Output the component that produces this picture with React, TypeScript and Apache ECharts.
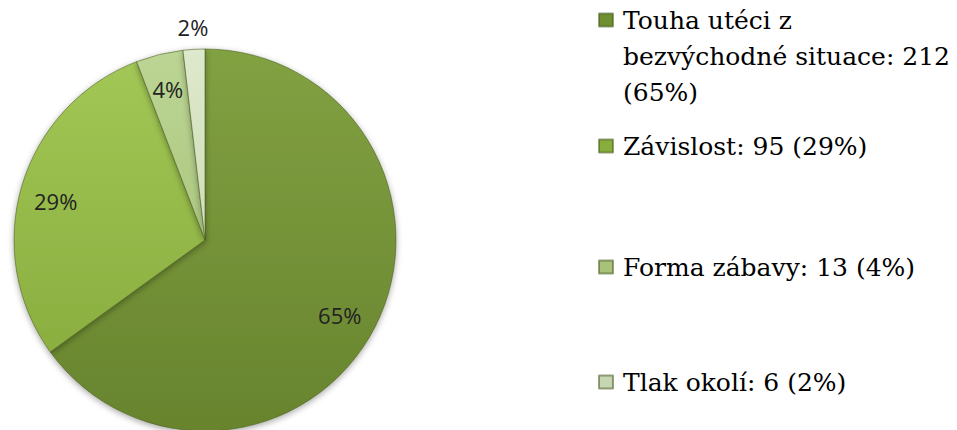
import React, { useEffect, useRef } from "react";
import * as echarts from "echarts";

const categories = [
  "Touha utéci z bezvýchodné situace",
  "Závislost",
  "Forma zábavy",
  "Tlak okolí",
];
const values = [212, 95, 13, 6];
const legendLines = [
  ["Touha utéci z", "bezvýchodné situace: 212", "(65%)"],
  ["Závislost: 95 (29%)"],
  ["Forma zábavy: 13 (4%)"],
  ["Tlak okolí: 6 (2%)"],
];
const topColors = ["#82a142", "#a3c856", "#bcd594", "#dde9cb"];
const bottomColors = ["#67842e", "#84a83a", "#9fbc70", "#c3d4a8"];
const iconColors = ["#6f8f30", "#87ae3b", "#a9c27a", "#c7d5b2"];
const legendCenters = [20, 146, 267, 382];

const CX = 205;
const CY = 240;
const R = 191;
const LINE_H = 36;

export default function App() {
  const ref = useRef<HTMLDivElement>(null);
  useEffect(() => {
    if (!ref.current) return;
    const chart = echarts.init(ref.current, null, { renderer: "svg" });
    const total = values.reduce((a, b) => a + b, 0);
    const data = categories.map((name, i) => ({
      name,
      value: values[i],
      itemStyle: {
        color: new echarts.graphic.LinearGradient(
          0,
          CY - R,
          0,
          CY + R,
          [
            { offset: 0, color: topColors[i] },
            { offset: 1, color: bottomColors[i] },
          ],
          true
        ),
      },
    }));
    const legends = categories.map((name, i) => {
      const lines = legendLines[i];
      const n = lines.length;
      const padded = [...Array(n - 1).fill(" "), ...lines];
      const boxH = padded.length * LINE_H;
      return {
        show: true,
        orient: "vertical",
        left: 598,
        top: legendCenters[i] - boxH / 2,
        padding: 0,
        itemWidth: 14,
        itemHeight: 13,
        icon: "rect",
        selectedMode: false,
        data: [{ name, itemStyle: { color: iconColors[i] } }],
        formatter: () => padded.join("\n"),
        textStyle: {
          fontFamily: "DejaVu Serif",
          fontSize: 25,
          color: "#000",
          lineHeight: LINE_H,
          padding: [0, 0, 0, 5],
        },
      };
    });
    chart.setOption({
      animation: false,
      legend: legends,
      series: [
        {
          type: "pie",
          center: [CX, CY],
          radius: [0, R],
          startAngle: 90,
          clockwise: true,
          silent: true,
          label: { show: false },
          labelLine: { show: false },
          itemStyle: {
            borderColor: "rgba(70,90,30,0.55)",
            borderWidth: 1,
            shadowColor: "rgba(0,0,0,0.35)",
            shadowBlur: 6,
            shadowOffsetY: 2,
          },
          data,
        },
        {
          type: "pie",
          center: [CX, CY],
          radius: [R * 0.6, R],
          startAngle: 90,
          clockwise: true,
          silent: true,
          itemStyle: { color: "rgba(0,0,0,0)" },
          label: {
            show: true,
            position: "inside",
            fontFamily: "Open Sans",
            fontSize: 22,
            color: "#222",
            formatter: (p: any) => `${Math.round((p.value / total) * 100)}%`,
          },
          labelLine: { show: false },
          labelLayout: (p: any) => {
            if (p.dataIndex === 3) return { dx: -3, dy: -57 };
            if (p.dataIndex === 1) return { dy: 5 };
            if (p.dataIndex === 0) return { dx: -4, dy: 4 };
            return {};
          },
          data: categories.map((name, i) => ({ name, value: values[i] })),
        },
      ],
    });
    return () => chart.dispose();
  }, []);
  return (
    <div
      ref={ref}
      style={{ position: "absolute", left: 0, top: 0, width: 957, height: 430 }}
    />
  );
}
